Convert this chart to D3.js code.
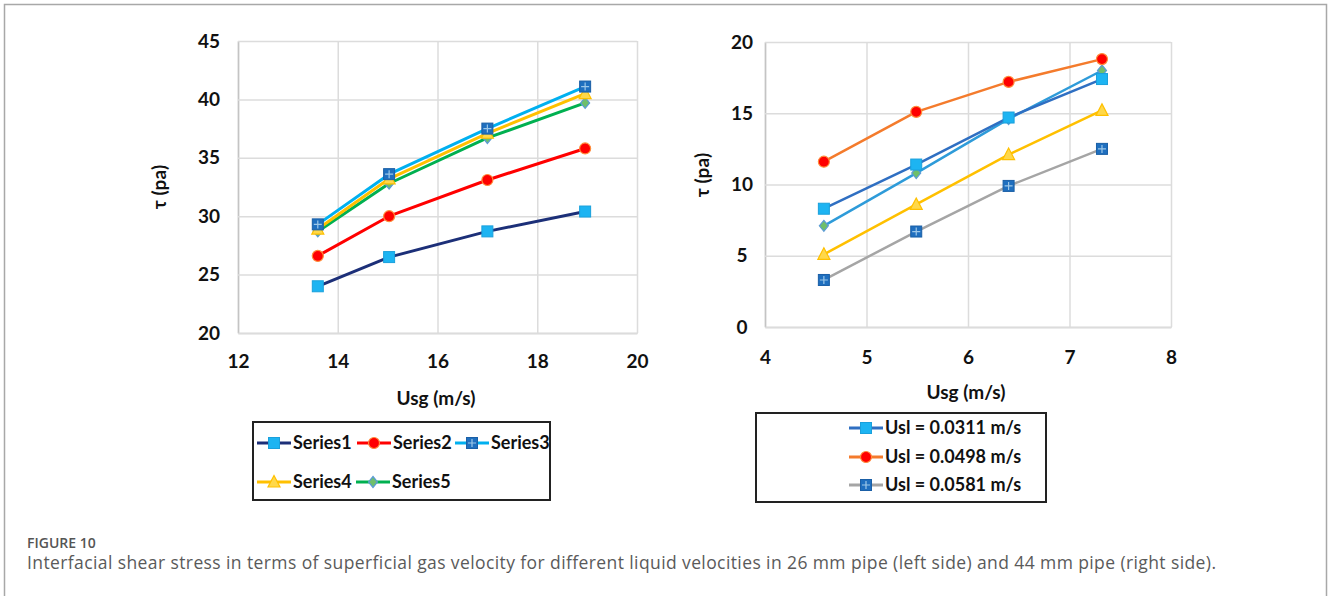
<!DOCTYPE html>
<html>
<head>
<meta charset="utf-8">
<script src="https://cdn.jsdelivr.net/npm/d3@7"></script>
<style>
  html, body { margin: 0; padding: 0; background: #fff; }
  svg { display: block; }
  .tick text { font-family: Lato, "Open Sans", sans-serif; font-weight: 700; fill: #111; }
</style>
</head>
<body>
<svg id="fig" width="1328" height="596"></svg>
<script>
// ---- 26 mm pipe (left panel) ----
const leftUsg = [13.6, 15.03, 17.0, 18.96];
const leftNames = ["Series1", "Series2", "Series3", "Series4", "Series5"];
const leftSeries1 = [24.0, 26.5, 28.7, 30.4];
const leftSeries2 = [26.6, 30.0, 33.1, 35.8];
const leftSeries3 = [29.3, 33.6, 37.5, 41.1];
const leftSeries4 = [28.9, 33.2, 37.1, 40.5];
const leftSeries5 = [28.7, 32.8, 36.7, 39.7];
const leftXTicks = [12, 14, 16, 18, 20];
const leftYTicks = [20, 25, 30, 35, 40, 45];

// ---- 44 mm pipe (right panel) ----
const rightUsg = [4.58, 5.49, 6.40, 7.32];
const rightNames = ["Usl = 0.0311 m/s", "Usl = 0.0498 m/s", "Usl = 0.0581 m/s"];
const rightUsl0311 = [8.3, 11.4, 14.7, 17.4];
const rightUsl0498 = [11.6, 15.1, 17.2, 18.8];
const rightUsl0581 = [3.3, 6.7, 9.9, 12.5];
const rightExtraA = [5.1, 8.6, 12.1, 15.2];
const rightExtraB = [7.1, 10.8, 14.6, 18.0];
const rightXTicks = [4, 5, 6, 7, 8];
const rightYTicks = [0, 5, 10, 15, 20];

const xTitle = "Usg (m/s)";
const yTitle = "τ (pa)";
const captionHead = "FIGURE 10";
const captionText = "Interfacial shear stress in terms of superficial gas velocity for different liquid velocities in 26 mm pipe (left side) and 44 mm pipe (right side).";

const svg = d3.select("#fig");
const FONT = "Lato, 'Open Sans', sans-serif";

// figure frame (open at the bottom)
svg.append("path")
  .attr("d", "M4.5,596 V4.5 H1326.5 V596")
  .attr("fill", "none").attr("stroke", "#a8a8a8").attr("stroke-width", 1.5);

// marker shapes
function marker(g, type, x, y, st) {
  const m = g.append("g").attr("transform", `translate(${x},${y})`);
  if (type === "square") {
    m.append("rect").attr("x", -5.5).attr("y", -5.5).attr("width", 11).attr("height", 11)
      .attr("fill", st.fill).attr("stroke", st.stroke).attr("stroke-width", 1);
  } else if (type === "circle") {
    m.append("circle").attr("r", 5.5).attr("fill", st.fill).attr("stroke", st.stroke).attr("stroke-width", 1.2);
  } else if (type === "cross") {
    m.append("rect").attr("x", -5.5).attr("y", -5.5).attr("width", 11).attr("height", 11)
      .attr("fill", st.fill).attr("stroke", st.stroke).attr("stroke-width", 1);
    m.append("path").attr("d", "M0,-4 V4 M-4,0 H4").attr("stroke", "#9cc7e8").attr("stroke-width", 1.2);
  } else if (type === "triangle") {
    m.append("path").attr("d", "M0,-6.5 L6,5 L-6,5 Z").attr("fill", st.fill).attr("stroke", st.stroke).attr("stroke-width", 1.2);
  } else if (type === "diamond") {
    m.append("path").attr("d", "M0,-5.5 L4.5,0 L0,5.5 L-4.5,0 Z").attr("fill", st.fill).attr("stroke", st.stroke).attr("stroke-width", 1.2);
  }
}

function panel(cfg) {
  const g = svg.append("g");
  const x = d3.scaleLinear().domain(cfg.xDomain).range(cfg.xRange);
  const y = d3.scaleLinear().domain(cfg.yDomain).range(cfg.yRange);
  const plotH = cfg.yRange[0] - cfg.yRange[1];
  const plotW = cfg.xRange[1] - cfg.xRange[0];

  // x axis with vertical gridlines
  const gx = g.append("g").attr("transform", `translate(0,${cfg.yRange[0]})`)
    .call(d3.axisBottom(x).tickValues(cfg.xTicks).tickFormat(d3.format("d"))
      .tickSizeInner(-plotH).tickSizeOuter(0).tickPadding(cfg.xPad));
  gx.selectAll(".tick line").attr("stroke", "#dcdcdc").attr("stroke-width", 1.5);
  gx.select(".domain").attr("stroke", "#c4c4c4").attr("stroke-width", 1.5);
  gx.selectAll(".tick text").style("font-size", "19px");

  // y axis with horizontal gridlines
  const gy = g.append("g").attr("transform", `translate(${cfg.xRange[0]},0)`)
    .call(d3.axisLeft(y).tickValues(cfg.yTicks).tickFormat(d3.format("d"))
      .tickSizeInner(-plotW).tickSizeOuter(0).tickPadding(cfg.yPad));
  gy.selectAll(".tick line").attr("stroke", "#dcdcdc").attr("stroke-width", 1.5);
  gy.select(".domain").attr("stroke", "#c4c4c4").attr("stroke-width", 1.5);
  gy.selectAll(".tick text").style("font-size", "19px")
    .attr("text-anchor", "middle").attr("x", -cfg.yLabelOff);

  // axis titles
  g.append("text").attr("x", cfg.xTitlePos[0]).attr("y", cfg.xTitlePos[1])
    .attr("text-anchor", "middle").attr("font-family", FONT).attr("font-weight", 700)
    .attr("font-size", 19).attr("fill", "#111").text(xTitle);
  g.append("text").attr("transform", `translate(${cfg.yTitlePos[0]},${cfg.yTitlePos[1]}) rotate(-90)`)
    .attr("text-anchor", "middle").attr("font-family", FONT).attr("font-weight", 700)
    .attr("font-size", 19).attr("fill", "#111").text(yTitle);

  // series
  const line = d3.line().x((d, i) => x(cfg.xs[i])).y(d => y(d));
  cfg.series.forEach(s => {
    g.append("path").datum(s.values).attr("d", line)
      .attr("fill", "none").attr("stroke", s.color).attr("stroke-width", cfg.lineW)
      .attr("stroke-linejoin", "round");
  });
  cfg.series.forEach(s => {
    s.values.forEach((v, i) => marker(g, s.marker, x(cfg.xs[i]), y(v), s.m));
  });
  return g;
}

const mSquare = { fill: "#1db4f2", stroke: "#1aa0dc" };
const mCircle = { fill: "#ff0000", stroke: "#ff8c3a" };
const mCross = { fill: "#1f6fbf", stroke: "#1a5fa6" };
const mTri = { fill: "#ffd84a", stroke: "#ffc000" };
const mDiamond = { fill: "#6fbf6a", stroke: "#5b9bd5" };

const leftDefs = [
  { values: leftSeries1, color: "#1c2f78", marker: "square", m: mSquare },
  { values: leftSeries2, color: "#ff0000", marker: "circle", m: mCircle },
  { values: leftSeries3, color: "#00b0f0", marker: "cross", m: mCross },
  { values: leftSeries4, color: "#ffc000", marker: "triangle", m: mTri },
  { values: leftSeries5, color: "#00b050", marker: "diamond", m: mDiamond }
];
const leftDraw = [leftDefs[0], leftDefs[1], leftDefs[4], leftDefs[3], leftDefs[2]];

panel({
  xDomain: [12, 20], xRange: [238, 637],
  yDomain: [20, 45], yRange: [333, 41],
  xTicks: leftXTicks, yTicks: leftYTicks,
  xPad: 22, yPad: 10, yLabelOff: 29,
  xTitlePos: [436, 405], yTitlePos: [166, 187],
  xs: leftUsg, series: leftDraw, lineW: 3
});

const rightDefs = [
  { values: rightUsl0311, color: "#2f6fc2", marker: "square", m: mSquare },
  { values: rightUsl0498, color: "#f47b2c", marker: "circle", m: mCircle },
  { values: rightUsl0581, color: "#a5a5a5", marker: "cross", m: mCross },
  { values: rightExtraA, color: "#ffc000", marker: "triangle", m: mTri },
  { values: rightExtraB, color: "#2e9bd9", marker: "diamond", m: mDiamond }
];

panel({
  xDomain: [4, 8], xRange: [765, 1171],
  yDomain: [0, 20], yRange: [327, 42],
  xTicks: rightXTicks, yTicks: rightYTicks,
  xPad: 24, yPad: 10, yLabelOff: 23,
  xTitlePos: [966, 399], yTitlePos: [709, 175],
  xs: rightUsg, series: [rightDefs[2], rightDefs[3], rightDefs[4], rightDefs[0], rightDefs[1]], lineW: 2.5
});

// legends
function legendEntry(g, def, name, lx, ly) {
  g.append("line").attr("x1", lx).attr("x2", lx + 34).attr("y1", ly).attr("y2", ly)
    .attr("stroke", def.color).attr("stroke-width", 3);
  marker(g, def.marker, lx + 17, ly, def.m);
  g.append("text").attr("x", lx + 36).attr("y", ly).attr("dy", "0.35em")
    .attr("font-family", FONT).attr("font-weight", 700).attr("font-size", 18)
    .attr("fill", "#111").text(name);
}

const lg = svg.append("g");
lg.append("rect").attr("x", 253).attr("y", 422).attr("width", 297).attr("height", 78)
  .attr("fill", "#fff").attr("stroke", "#222").attr("stroke-width", 2);
const leftPos = [[257, 443], [357, 443], [455, 443], [257, 482], [356, 482]];
leftDefs.forEach((d, i) => legendEntry(lg, d, leftNames[i], leftPos[i][0], leftPos[i][1]));

const rg = svg.append("g");
rg.append("rect").attr("x", 756).attr("y", 413).attr("width", 290).attr("height", 89)
  .attr("fill", "#fff").attr("stroke", "#222").attr("stroke-width", 2);
const rightRows = [428, 457, 485];
[0, 1, 2].forEach(i => legendEntry(rg, rightDefs[i], rightNames[i], 849, rightRows[i]));

// caption
svg.append("text").attr("x", 27).attr("y", 548)
  .attr("font-family", "'Open Sans', sans-serif").attr("font-weight", 600)
  .attr("font-size", 14).attr("fill", "#555").text(captionHead);
svg.append("text").attr("x", 27).attr("y", 569)
  .attr("font-family", "'Open Sans', sans-serif").attr("font-size", 17.5)
  .attr("letter-spacing", 0.4).attr("fill", "#5a5a5a").text(captionText);
</script>
</body>
</html>
